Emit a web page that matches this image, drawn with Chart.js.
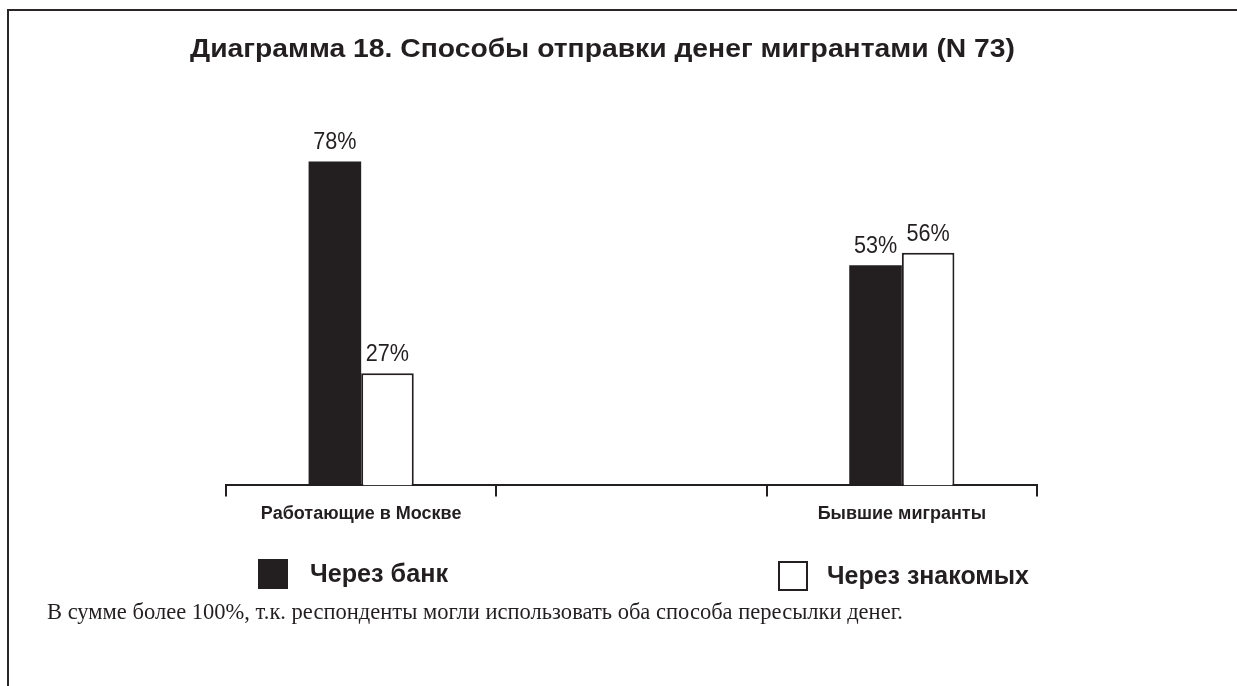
<!DOCTYPE html>
<html>
<head>
<meta charset="utf-8">
<script src="https://cdn.jsdelivr.net/npm/chart.js@4.4.0/dist/chart.umd.min.js"></script>
<style>
  html, body { margin: 0; padding: 0; background: #ffffff; }
  body { width: 1237px; height: 686px; position: relative; overflow: hidden; }
  #c { position: absolute; left: 0; top: 0; }
  .frame-top { position: absolute; left: 7px; top: 9px; width: 1230px; height: 2px; background: #2a2627; }
  .frame-left { position: absolute; left: 7px; top: 9px; width: 2px; height: 677px; background: #2a2627; }
  .txt { position: absolute; white-space: nowrap; line-height: 1; color: #231f20; transform-origin: left top; display: inline-block; }
  #title { font: bold 26px "Liberation Sans", Arial, sans-serif; left: 190px; top: 33px; }
  .lbox { position: absolute; width: 30px; height: 30px; box-sizing: border-box; }
  .lt { font: bold 25px "Liberation Sans", Arial, sans-serif; }
  #note { font: 23px "Liberation Serif", "Times New Roman", serif; left: 47px; top: 599px; }
</style>
</head>
<body>
<div class="frame-top"></div>
<div class="frame-left"></div>
<canvas id="c" width="1237" height="686"></canvas>
<div id="title" class="txt" data-w="825">Диаграмма 18. Способы отправки денег мигрантами (N 73)</div>
<div class="lbox" style="left:258px; top:559px; background:#231f20;"></div>
<div id="lt1" class="txt lt" style="left:310px; top:559px;" data-w="138">Через банк</div>
<div class="lbox" style="left:778px; top:561px; background:#fff; border:2px solid #231f20;"></div>
<div id="lt2" class="txt lt" style="left:827px; top:561px;" data-w="202">Через знакомых</div>
<div id="note" class="txt" data-w="856">В сумме более 100%, т.к. респонденты могли использовать оба способа пересылки денег.</div>
<script>
// ---- data ----
const categories = ['Работающие в Москве', '', 'Бывшие мигранты'];
const seriesNames = ['Через банк', 'Через знакомых'];
const bankValues = [78, null, 53];
const friendsValues = [27, null, 56];
const yMin = 0;
const yMax = 100;

// fit HTML texts to measured widths
document.querySelectorAll('.txt[data-w]').forEach(el => {
  const w = el.getBoundingClientRect().width;
  const target = parseFloat(el.dataset.w);
  el.style.transform = 'scaleX(' + (target / w) + ')';
});

const ink = '#231f20';

const valueLabels = {
  id: 'valueLabels',
  afterDatasetsDraw(chart) {
    const ctx = chart.ctx;
    chart.data.datasets.forEach((ds, i) => {
      const meta = chart.getDatasetMeta(i);
      meta.data.forEach((bar, j) => {
        const v = ds.data[j];
        if (v === null || v === undefined) return;
        ctx.save();
        ctx.font = '24px "Liberation Sans", Arial, sans-serif';
        ctx.fillStyle = ink;
        ctx.textAlign = 'center';
        ctx.textBaseline = 'alphabetic';
        ctx.translate(bar.x, bar.y - 12);
        ctx.scale(0.9, 1);
        ctx.fillText(v + '%', 0, 0);
        ctx.restore();
      });
    });
  }
};

new Chart(document.getElementById('c'), {
  type: 'bar',
  data: {
    labels: categories,
    datasets: [
      {
        label: seriesNames[0],
        data: bankValues,
        backgroundColor: ink,
        borderColor: ink,
        borderWidth: 0,
        categoryPercentage: 0.389,
        barPercentage: 1.0
      },
      {
        label: seriesNames[1],
        data: friendsValues,
        backgroundColor: '#ffffff',
        borderColor: ink,
        borderWidth: 2,
        borderSkipped: 'bottom',
        categoryPercentage: 0.389,
        barPercentage: 1.0
      }
    ]
  },
  options: {
    responsive: false,
    animation: false,
    layout: { padding: { left: 226, right: 200, top: 70, bottom: 154 } },
    plugins: {
      legend: { display: false },
      title: { display: false },
      tooltip: { enabled: false }
    },
    scales: {
      x: {
        offset: true,
        grid: {
          offset: true,
          drawOnChartArea: false,
          drawTicks: true,
          tickLength: 11,
          color: ink,
          lineWidth: 2
        },
        border: { display: true, color: ink, width: 2 },
        ticks: {
          color: ink,
          padding: 7,
          maxRotation: 0,
          autoSkip: false,
          font: { family: '"Liberation Sans", Arial, sans-serif', size: 18, weight: 'bold' }
        }
      },
      y: {
        display: false,
        min: yMin,
        max: yMax
      }
    }
  },
  plugins: [valueLabels]
});
</script>
</body>
</html>
